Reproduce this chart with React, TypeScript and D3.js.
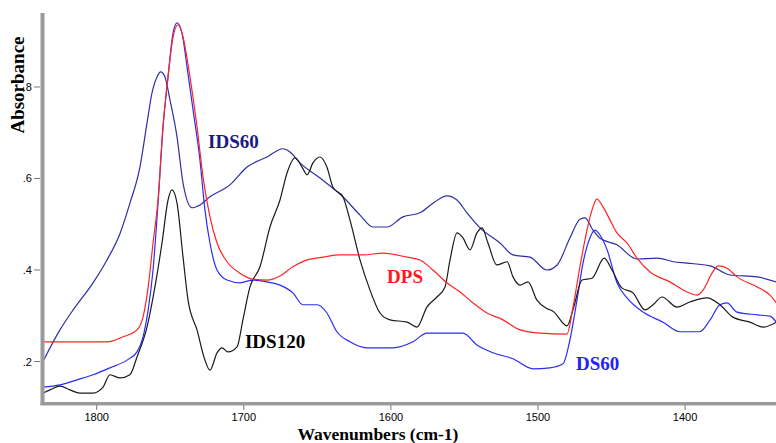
import React from "react";
import * as d3 from "d3";

// Wavenumber (cm-1) / absorbance pairs
const ids60Wn = [1836.5, 1825, 1816, 1802.5, 1793, 1784, 1777.4, 1770.6, 1765.8, 1762.4, 1759, 1756.5, 1753.6, 1750.2, 1745.4, 1741.3, 1735.2, 1729.8, 1723, 1709.4, 1697.8, 1684.2, 1673.4, 1668.6, 1661.8, 1648.2, 1632.6, 1621, 1612.2, 1602.7, 1591.8, 1580.2, 1571.4, 1561.9, 1555.1, 1548.3, 1539.4, 1525.8, 1517, 1505.4, 1494, 1487, 1478.3, 1471.5, 1468, 1462.6, 1458, 1446.3, 1432.7, 1419, 1408, 1398.7, 1383, 1369.5, 1351, 1338];
const ids60Abs = [0.2, 0.269, 0.313, 0.372, 0.422, 0.481, 0.546, 0.625, 0.721, 0.787, 0.822, 0.833, 0.822, 0.772, 0.691, 0.59, 0.536, 0.542, 0.56, 0.586, 0.625, 0.647, 0.665, 0.658, 0.634, 0.601, 0.56, 0.52, 0.494, 0.494, 0.516, 0.525, 0.546, 0.562, 0.553, 0.525, 0.492, 0.459, 0.433, 0.428, 0.4, 0.411, 0.47, 0.511, 0.514, 0.487, 0.47, 0.455, 0.424, 0.426, 0.418, 0.415, 0.409, 0.389, 0.385, 0.374];

const ds60Wn = [1836.5, 1825, 1813.4, 1802.5, 1791, 1779.4, 1772.6, 1768.5, 1765, 1761.7, 1758.3, 1754.9, 1751.5, 1748.1, 1745.4, 1742, 1738.6, 1734.5, 1729.8, 1726.4, 1723, 1718.2, 1711.4, 1702.6, 1693.8, 1684.2, 1675.4, 1666.6, 1659.8, 1650.2, 1643.5, 1636.7, 1627.8, 1616.3, 1598.6, 1585, 1575.5, 1566.6, 1551, 1541.5, 1530.6, 1517, 1503.4, 1492, 1483, 1478.3, 1473.5, 1469.4, 1464.7, 1461.3, 1458, 1453, 1446.3, 1439.5, 1428.6, 1415, 1403.5, 1390, 1383, 1376.3, 1371.5, 1364.7, 1351, 1342.3, 1338];
const ds60Abs = [0.144, 0.149, 0.16, 0.171, 0.186, 0.203, 0.221, 0.254, 0.313, 0.4, 0.546, 0.713, 0.822, 0.918, 0.94, 0.918, 0.844, 0.75, 0.64, 0.531, 0.459, 0.4, 0.378, 0.372, 0.378, 0.374, 0.367, 0.35, 0.324, 0.324, 0.306, 0.265, 0.243, 0.23, 0.23, 0.243, 0.262, 0.262, 0.262, 0.236, 0.219, 0.206, 0.184, 0.186, 0.195, 0.247, 0.334, 0.415, 0.47, 0.487, 0.477, 0.444, 0.372, 0.339, 0.308, 0.286, 0.265, 0.265, 0.291, 0.324, 0.328, 0.308, 0.302, 0.299, 0.286];

const dpsWn = [1836.5, 1811.4, 1793, 1782, 1772.6, 1768.5, 1765, 1761.7, 1758.3, 1754.9, 1751.5, 1748.1, 1744.7, 1741.3, 1736.6, 1731.8, 1727.7, 1723, 1718.2, 1711.4, 1702.6, 1693.8, 1684.2, 1675.4, 1666.6, 1657, 1646.2, 1634.6, 1619, 1605.4, 1589, 1580.2, 1571.4, 1562, 1553, 1544.2, 1534.7, 1523.8, 1512.2, 1498.6, 1480.3, 1476.2, 1471.5, 1466.7, 1463.3, 1460, 1455.8, 1451, 1446.3, 1439.5, 1432.7, 1424, 1410.3, 1398.7, 1392, 1387.8, 1381.7, 1377.6, 1371.5, 1364.7, 1351, 1342.3, 1338];
const dpsAbs = [0.243, 0.243, 0.243, 0.254, 0.269, 0.297, 0.363, 0.459, 0.553, 0.713, 0.822, 0.909, 0.936, 0.909, 0.822, 0.713, 0.603, 0.516, 0.459, 0.418, 0.393, 0.38, 0.378, 0.387, 0.407, 0.422, 0.428, 0.433, 0.433, 0.437, 0.428, 0.422, 0.4, 0.372, 0.352, 0.328, 0.306, 0.291, 0.269, 0.262, 0.26, 0.319, 0.407, 0.487, 0.531, 0.555, 0.538, 0.509, 0.481, 0.459, 0.426, 0.396, 0.374, 0.352, 0.345, 0.356, 0.393, 0.409, 0.404, 0.385, 0.363, 0.345, 0.328];

const ids120Wn = [1836.5, 1831.7, 1825, 1818.2, 1811.4, 1802.5, 1795.7, 1791, 1784.2, 1777.4, 1772.6, 1765.8, 1760.4, 1755.6, 1751.5, 1748.8, 1745.4, 1741.3, 1737.9, 1731.8, 1726.4, 1723, 1718.2, 1714.8, 1710.8, 1704.6, 1700.6, 1695.8, 1689, 1682.2, 1675.4, 1670.6, 1665.2, 1660.4, 1657, 1653, 1648.2, 1643.5, 1639.4, 1632.6, 1627.8, 1621, 1614.2, 1607.4, 1600.6, 1589, 1582.3, 1575.5, 1568.7, 1563.2, 1559.8, 1555, 1551, 1546.2, 1541.5, 1538, 1534, 1528, 1521, 1517, 1512.2, 1506.8, 1500.7, 1494, 1489.8, 1480.3, 1476.2, 1470, 1463.3, 1455, 1449.7, 1443, 1435.4, 1427.3, 1421.8, 1415.7, 1405.5, 1396.7, 1385, 1376.3, 1367.5, 1356, 1347, 1338];
const ids120Abs = [0.131, 0.138, 0.146, 0.138, 0.131, 0.131, 0.144, 0.171, 0.164, 0.171, 0.21, 0.275, 0.363, 0.459, 0.553, 0.575, 0.546, 0.428, 0.334, 0.269, 0.203, 0.181, 0.219, 0.23, 0.221, 0.232, 0.291, 0.363, 0.407, 0.494, 0.553, 0.612, 0.645, 0.625, 0.608, 0.634, 0.647, 0.625, 0.581, 0.56, 0.509, 0.422, 0.356, 0.306, 0.291, 0.286, 0.275, 0.319, 0.341, 0.363, 0.422, 0.481, 0.47, 0.444, 0.481, 0.492, 0.459, 0.411, 0.418, 0.385, 0.367, 0.374, 0.334, 0.316, 0.31, 0.278, 0.313, 0.378, 0.382, 0.426, 0.4, 0.361, 0.35, 0.313, 0.324, 0.341, 0.319, 0.33, 0.339, 0.324, 0.297, 0.286, 0.275, 0.286];

const xTicks = [1800, 1700, 1600, 1500, 1400];
const yTicks = [0.2, 0.4, 0.6, 0.8];
const yTickLabels = [".2", ".4", ".6", ".8"];

const seriesNames = ["IDS60", "DS60", "IDS120", "DPS"];
const seriesColors = ["#2e2ea6", "#2a2aff", "#1a1a1a", "#ff2424"];
const labelColors = ["#1a1a80", "#1f1fff", "#000000", "#ff1a1a"];
// label anchors (wavenumber, absorbance)
const labelWn = [1724.3, 1474.2, 1699.2, 1602.6];
const labelAbs = [0.666, 0.1814, 0.2295, 0.3716];

export default function App() {
  const W = 776;
  const H = 443;
  const x = d3.scaleLinear().domain([1836.5, 1338.2]).range([43, 776]);
  const y = d3.scaleLinear().domain([0.1093, 0.9617]).range([403, 13]);

  const make = (wn: number[], ab: number[]) => wn.map((w, i) => [w, ab[i]] as [number, number]);
  const series = [
    make(ids60Wn, ids60Abs),
    make(ds60Wn, ds60Abs),
    make(ids120Wn, ids120Abs),
    make(dpsWn, dpsAbs),
  ];
  const line = d3
    .line<[number, number]>()
    .x((d) => x(d[0]))
    .y((d) => y(d[1]))
    .curve(d3.curveMonotoneX);

  const serif = "'Liberation Serif', 'Times New Roman', serif";
  const sans = "'Liberation Sans', Arial, sans-serif";

  return (
    <svg
      width={W}
      height={H}
      style={{ position: "absolute", left: 0, top: 0, background: "#fff" }}
    >
      <rect x={0} y={0} width={W} height={H} fill="#fff" />
      <defs>
        <clipPath id="plot">
          <rect x={43} y={10} width={W - 43} height={393} />
        </clipPath>
      </defs>
      <g clipPath="url(#plot)">
        {series.map((s, i) => (
          <path
            key={seriesNames[i]}
            d={line(s) || ""}
            fill="none"
            stroke={seriesColors[i]}
            strokeWidth={1.2}
            strokeLinejoin="round"
          />
        ))}
      </g>
      {/* axes */}
      <line x1={42.5} x2={42.5} y1={13} y2={406} stroke="#9a9a9a" strokeWidth={4} />
      <line x1={40.5} x2={W} y1={403.5} y2={403.5} stroke="#9a9a9a" strokeWidth={3} />
      <line x1={40.5} x2={W} y1={405.5} y2={405.5} stroke="#cfcfcf" strokeWidth={1} />
      {xTicks.map((t) => (
        <g key={t}>
          <line x1={x(t)} x2={x(t)} y1={405} y2={410} stroke="#777" strokeWidth={1} />
          <text
            x={x(t)}
            y={421}
            textAnchor="middle"
            fontFamily={sans}
            fontSize={11}
            fill="#000"
          >
            {t}
          </text>
        </g>
      ))}
      {yTicks.map((t, i) => (
        <g key={t}>
          <line x1={34} x2={40} y1={y(t)} y2={y(t)} stroke="#777" strokeWidth={1} />
          <text
            x={32}
            y={y(t) + 4}
            textAnchor="end"
            fontFamily={sans}
            fontSize={11}
            fill="#000"
          >
            {yTickLabels[i]}
          </text>
        </g>
      ))}
      <text
        transform={`translate(24, 85) rotate(-90)`}
        textAnchor="middle"
        fontFamily={serif}
        fontWeight="bold"
        fontSize={19}
        fill="#000"
      >
        Absorbance
      </text>
      <text
        x={378}
        y={439.5}
        textAnchor="middle"
        fontFamily={serif}
        fontWeight="bold"
        fontSize={17.5}
        fill="#000"
      >
        Wavenumbers (cm-1)
      </text>
      {seriesNames.map((n, i) => (
        <text
          key={n}
          x={x(labelWn[i])}
          y={y(labelAbs[i])}
          fontFamily={serif}
          fontWeight="bold"
          fontSize={19}
          fill={labelColors[i]}
        >
          {n}
        </text>
      ))}
    </svg>
  );
}
